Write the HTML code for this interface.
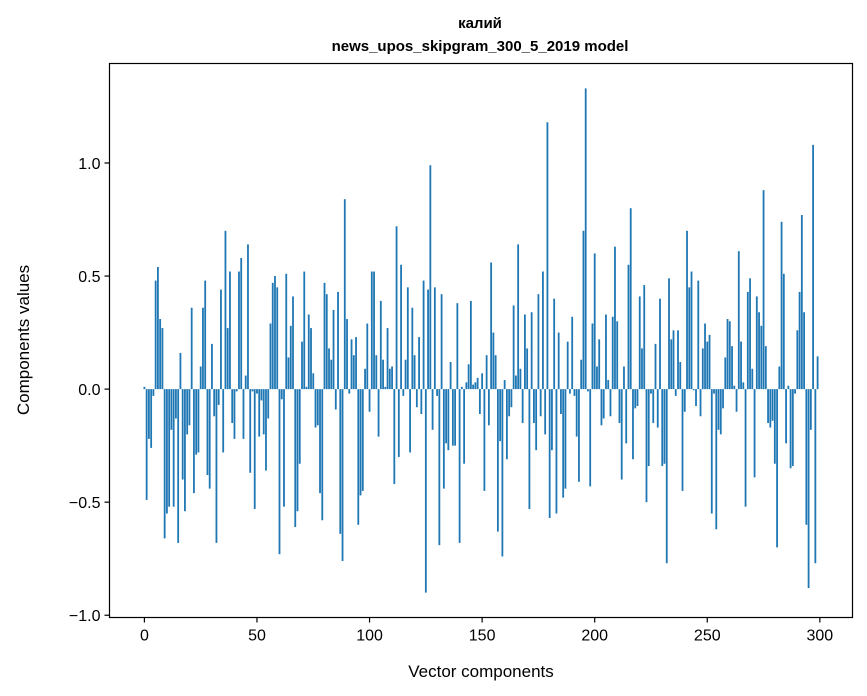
<!DOCTYPE html>
<html><head><meta charset="utf-8"><style>
body{margin:0;background:#fff;}
svg{display:block;font-family:"Liberation Sans","DejaVu Sans",sans-serif;}
</style></head><body>
<svg id="chart" width="867" height="696" viewBox="0 0 867 696">
<rect width="867" height="696" fill="#fff"/>
<text x="480" y="28" text-anchor="middle" font-size="15" font-weight="bold">калий</text>
<text x="480" y="51" text-anchor="middle" font-size="15" font-weight="bold">news_upos_skipgram_300_5_2019 model</text>
<g id="bars"></g>
<g id="axes"></g>
<text x="481" y="677" text-anchor="middle" font-size="17">Vector components</text>
<text transform="translate(29,340) rotate(-90)" text-anchor="middle" font-size="17">Components values</text>
</svg>
<script>
const values = [
0.01,-0.49,-0.22,-0.26,-0.03,0.48,0.54,0.31,0.27,-0.66,
-0.55,-0.52,-0.18,-0.52,-0.13,-0.68,0.16,-0.40,-0.54,-0.20,
-0.16,0.36,-0.46,-0.29,-0.28,0.10,0.36,0.48,-0.38,-0.44,
0.20,-0.12,-0.68,-0.07,0.44,-0.28,0.70,0.27,0.52,-0.15,
-0.22,-0.01,0.52,0.58,-0.22,0.06,0.64,-0.37,-0.01,-0.53,
-0.02,-0.21,-0.05,-0.20,-0.36,-0.13,0.29,0.47,0.50,0.45,
-0.73,-0.045,-0.52,0.51,0.14,0.28,0.41,-0.61,-0.54,-0.33,
0.21,0.52,0.01,0.33,0.27,0.07,-0.17,-0.16,-0.46,-0.58,
0.47,0.42,0.18,0.13,0.35,-0.09,0.43,-0.64,-0.76,0.84,
0.31,-0.02,0.22,0.15,0.23,-0.60,-0.47,-0.45,0.09,0.29,
-0.10,0.52,0.52,0.15,-0.21,0.39,0.13,0.01,0.27,0.09,
0.10,-0.42,0.72,-0.30,0.55,-0.03,0.13,0.45,-0.28,0.36,
0.15,-0.08,0.23,-0.11,0.48,-0.90,0.44,0.99,-0.18,0.45,
-0.03,-0.69,0.42,-0.44,-0.24,-0.27,0.12,-0.25,-0.25,0.38,
-0.68,0.01,-0.33,0.03,0.11,0.39,0.02,0.03,0.05,-0.11,
0.07,-0.45,0.15,-0.16,0.56,0.25,0.15,-0.63,-0.23,-0.74,
0.04,-0.31,-0.12,-0.08,0.37,0.06,0.64,0.09,-0.15,0.33,
0.18,-0.53,0.34,-0.15,-0.27,0.42,-0.12,0.52,-0.20,1.18,
-0.57,-0.27,0.40,-0.55,0.25,-0.11,-0.48,-0.44,0.21,-0.02,
0.32,-0.03,-0.21,-0.41,0.13,0.70,1.33,-0.01,-0.43,0.29,
0.60,0.10,0.22,-0.16,-0.13,0.33,0.04,-0.12,0.32,0.63,
0.30,-0.15,-0.40,0.10,-0.24,0.55,0.80,-0.31,-0.085,-0.075,
0.41,0.18,0.46,-0.50,-0.34,-0.02,-0.15,0.20,-0.17,0.40,
-0.34,-0.33,-0.77,0.49,0.22,0.26,-0.03,0.26,0.12,-0.45,
-0.10,0.70,0.45,0.52,-0.005,-0.075,0.48,-0.12,0.18,0.29,
0.21,0.24,-0.55,-0.02,-0.62,-0.18,-0.20,-0.085,0.14,0.31,
0.30,0.19,0.015,-0.10,0.61,0.21,0.03,-0.52,0.43,0.49,
0.09,-0.39,0.41,0.34,0.28,0.88,0.19,-0.15,-0.17,-0.14,
-0.33,-0.70,0.10,0.74,0.51,-0.24,0.015,-0.35,-0.34,-0.02,
0.26,0.43,0.77,0.34,-0.60,-0.88,-0.18,1.08,-0.77,0.145
];
const xTicks = [0,50,100,150,200,250,300];
const yTicks = [-1.0,-0.5,0.0,0.5,1.0];
const yTickLabels = ["\u22121.0","\u22120.5","0.0","0.5","1.0"];

const L=109.5,R=852.5,T=63.5,B=617.5;
const xMin=-15.5,xMax=314.5,yMin=-1.01,yMax=1.44;
const sx=v=>L+(v-xMin)/(xMax-xMin)*(R-L);
const sy=v=>T+(yMax-v)/(yMax-yMin)*(B-T);
const NS="http://www.w3.org/2000/svg";
const bars=document.getElementById('bars');
const bw=(sx(0.8)-sx(0));
values.forEach((v,i)=>{
  const r=document.createElementNS(NS,'rect');
  const y0=sy(0),y1=sy(v);
  r.setAttribute('x',sx(i)-bw/2);
  r.setAttribute('y',Math.min(y0,y1));
  r.setAttribute('width',bw);
  r.setAttribute('height',Math.abs(y1-y0));
  r.setAttribute('fill','#1f77b4');
  
  
  bars.appendChild(r);
});
const axes=document.getElementById('axes');
const frame=document.createElementNS(NS,'rect');
frame.setAttribute('x',L);frame.setAttribute('y',T);
frame.setAttribute('width',R-L);frame.setAttribute('height',B-T);
frame.setAttribute('fill','none');frame.setAttribute('stroke','#000');frame.setAttribute('stroke-width','1.2');


axes.appendChild(frame);
xTicks.forEach(t=>{
  const x=sx(t);
  const ln=document.createElementNS(NS,'line');
  ln.setAttribute('x1',x);ln.setAttribute('x2',x);ln.setAttribute('y1',B);ln.setAttribute('y2',B+5);
  ln.setAttribute('stroke','#000');ln.setAttribute('stroke-width','1.2');
  
  
  axes.appendChild(ln);
  const tx=document.createElementNS(NS,'text');
  tx.setAttribute('x',x);tx.setAttribute('y',B+23);tx.setAttribute('text-anchor','middle');tx.setAttribute('font-size','16');
  tx.textContent=t;
  
  
  axes.appendChild(tx);
});
yTicks.forEach((t,i)=>{
  const y=sy(t);
  const ln=document.createElementNS(NS,'line');
  ln.setAttribute('x1',L-5);ln.setAttribute('x2',L);ln.setAttribute('y1',y);ln.setAttribute('y2',y);
  ln.setAttribute('stroke','#000');ln.setAttribute('stroke-width','1.2');
  
  
  axes.appendChild(ln);
  const tx=document.createElementNS(NS,'text');
  tx.setAttribute('x',L-9);tx.setAttribute('y',y+6);tx.setAttribute('text-anchor','end');tx.setAttribute('font-size','16');
  tx.textContent=yTickLabels[i];
  
  
  axes.appendChild(tx);
});
</script>
</body></html>
